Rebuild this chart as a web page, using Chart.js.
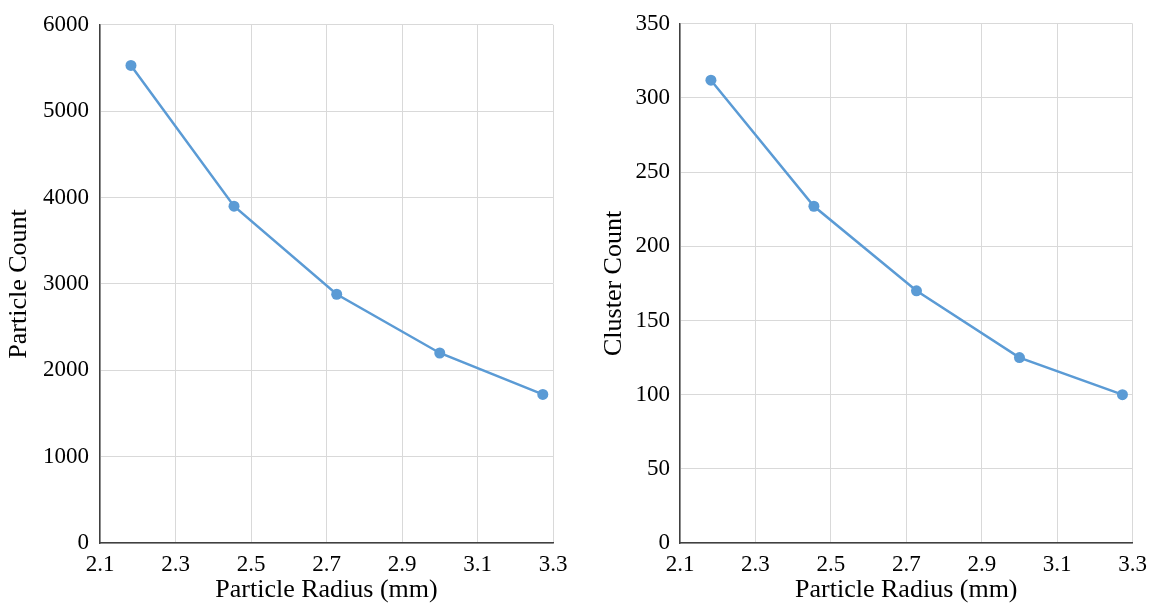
<!DOCTYPE html>
<html>
<head>
<meta charset="utf-8">
<script src="https://cdn.jsdelivr.net/npm/chart.js@4"></script>
<style>
  html, body { margin: 0; padding: 0; background: #fff; overflow: hidden; }
  .box { position: absolute; top: 0; height: 609px; }
  #leftBox { left: 0; width: 580px; }
  #rightBox { left: 580px; width: 575px; }
</style>
</head>
<body>
<div class="box" id="leftBox"><canvas id="particleChart"></canvas></div>
<div class="box" id="rightBox"><canvas id="clusterChart"></canvas></div>
<script>
  // Data
  const radius = [2.182, 2.455, 2.727, 3.0, 3.273];
  const particleCount = [5530, 3900, 2880, 2200, 1720];
  const clusterCount = [312, 227, 170, 125, 100];
  const xTicks = { min: 2.1, max: 3.3, step: 0.2 };
  const particleTicks = { min: 0, max: 6000, step: 1000 };
  const clusterTicks = { min: 0, max: 350, step: 50 };

  const serif = 'Liberation Serif';
  const blue = '#5b9bd5';

  function points(xs, ys) {
      return xs.map((x, i) => ({ x: x, y: ys[i] }));
  }

  function makeChart(id, ys, yTicks, yTitle, opts) {
      const ctx = document.getElementById(id).getContext('2d');
      return new Chart(ctx, {
          type: 'scatter',
          data: {
              datasets: [
                  {
                      data: points(radius, ys),
                      showLine: true,
                      borderColor: blue,
                      backgroundColor: blue,
                      borderWidth: 2.5,
                      pointRadius: 5.5,
                      pointBorderWidth: 0,
                  }
              ]
          },
          options: {
              responsive: true,
              maintainAspectRatio: false,
              animation: false,
              layout: {
                  padding: { top: 20, right: opts.padRight, bottom: 0, left: 0 }
              },
              plugins: {
                  legend: { display: false },
                  tooltip: { enabled: false }
              },
              scales: {
                  x: {
                      type: 'linear',
                      min: xTicks.min,
                      max: xTicks.max,
                      afterFit: s => { s.height = 66; },
                      ticks: {
                          stepSize: xTicks.step,
                          padding: 8,
                          color: '#000',
                          font: { family: serif, size: 23 },
                          callback: v => v.toFixed(1)
                      },
                      grid: { color: '#d9d9d9', lineWidth: 1, drawTicks: false },
                      border: { color: '#404040', width: 1.5 },
                      title: {
                          display: true,
                          text: 'Particle Radius (mm)',
                          color: '#000',
                          font: { family: serif, size: 26 },
                          padding: { top: 0, bottom: 3 }
                      }
                  },
                  y: {
                      min: yTicks.min,
                      max: yTicks.max,
                      afterFit: s => { s.width = opts.yWidth; },
                      ticks: {
                          stepSize: yTicks.step,
                          padding: opts.tickPad,
                          color: '#000',
                          font: { family: serif, size: 23 },
                          callback: v => String(v)
                      },
                      grid: { color: '#d9d9d9', lineWidth: 1, drawTicks: false },
                      border: { color: '#404040', width: 1.5 },
                      title: {
                          display: true,
                          text: yTitle,
                          color: '#000',
                          font: { family: serif, size: 26 },
                          padding: { top: opts.titlePad, bottom: 0 }
                      }
                  }
              }
          }
      });
  }

  makeChart('particleChart', particleCount, particleTicks, 'Particle Count',
      { padRight: 27, yWidth: 100, tickPad: 11, titlePad: 4 });
  makeChart('clusterChart', clusterCount, clusterTicks, 'Cluster Count',
      { padRight: 19, yWidth: 100, tickPad: 10, titlePad: 19 });
</script>
</body>
</html>
